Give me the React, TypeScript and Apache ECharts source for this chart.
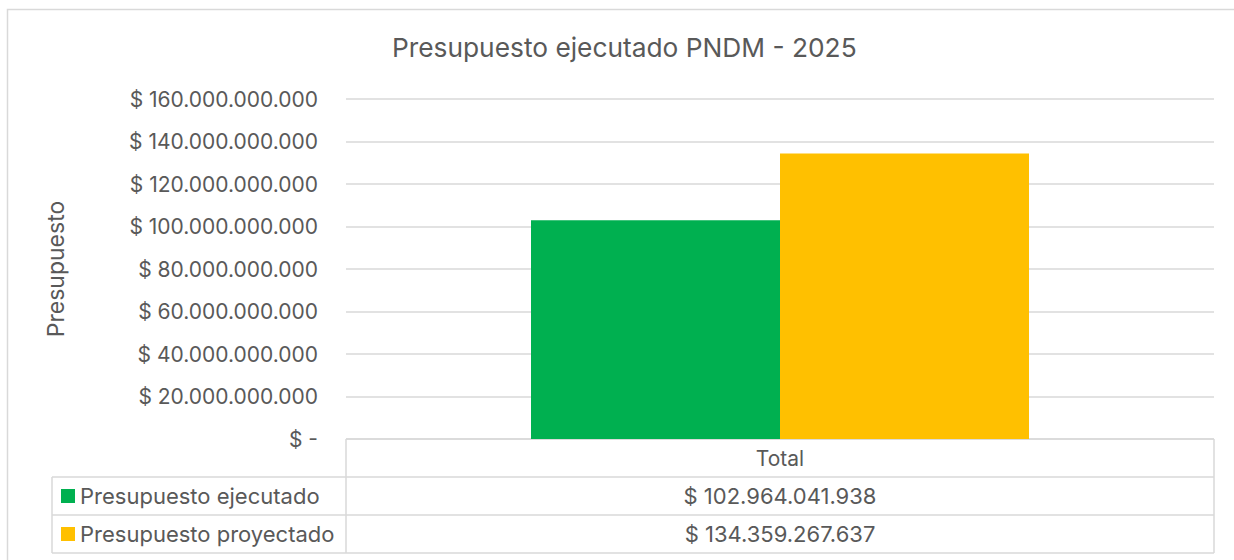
import React, { useEffect, useRef } from "react";
import * as echarts from "echarts";

const categories = ["Total"];
const seriesNames = ["Presupuesto ejecutado", "Presupuesto proyectado"];
const seriesColors = ["#00B050", "#FFC000"];
const ejecutado = [102964041938];
const proyectado = [134359267637];
const yTicks = [0, 20e9, 40e9, 60e9, 80e9, 100e9, 120e9, 140e9, 160e9];

const FONT = "Inter, 'Noto Sans', sans-serif";
const TXT = "#595959";
const LINE = "#D9D9D9";

function fmt(v: number): string {
  if (v === 0) return "$ -";
  const s = Math.round(v).toString().replace(/\B(?=(\d{3})+(?!\d))/g, ".");
  return "$ " + s;
}

export default function App() {
  const ref = useRef<HTMLDivElement>(null);
  useEffect(() => {
    if (!ref.current) return;
    const chart = echarts.init(ref.current, null, { renderer: "svg" });
    const gl = 346, gr = 1214, gt = 99, gb = 439;
    const rowTops = [439, 477, 515, 553];
    const seriesData = [ejecutado, proyectado];
    const graphics: any[] = [];
    graphics.push({ type: "rect", shape: { x: 7.5, y: 9.5, width: 1240, height: 600 }, style: { fill: "none", stroke: LINE, lineWidth: 1.5 }, silent: true });
    graphics.push({ type: "line", shape: { x1: gl, y1: rowTops[0], x2: gr, y2: rowTops[0] }, style: { stroke: LINE, lineWidth: 1.5 } });
    for (let i = 1; i < rowTops.length; i++) {
      graphics.push({ type: "line", shape: { x1: 52, y1: rowTops[i], x2: gr, y2: rowTops[i] }, style: { stroke: LINE, lineWidth: 1.5 } });
    }
    graphics.push({ type: "line", shape: { x1: 52, y1: rowTops[1], x2: 52, y2: rowTops[3] }, style: { stroke: LINE, lineWidth: 1.5 } });
    graphics.push({ type: "line", shape: { x1: gl, y1: rowTops[0], x2: gl, y2: rowTops[3] }, style: { stroke: LINE, lineWidth: 1.5 } });
    graphics.push({ type: "line", shape: { x1: gr, y1: rowTops[0], x2: gr, y2: rowTops[3] }, style: { stroke: LINE, lineWidth: 1.5 } });
    graphics.push({ type: "text", x: (gl + gr) / 2, y: (rowTops[0] + rowTops[1]) / 2, style: { text: categories[0], fill: TXT, font: `21px ${FONT}`, align: "center", verticalAlign: "middle" } });
    seriesNames.forEach((name, i) => {
      const cy = (rowTops[i + 1] + rowTops[i + 2]) / 2;
      graphics.push({ type: "rect", shape: { x: 61, y: cy - 7, width: 14, height: 14 }, style: { fill: seriesColors[i] } });
      graphics.push({ type: "text", x: 80, y: cy, style: { text: name, fill: TXT, font: `22px ${FONT}`, align: "left", verticalAlign: "middle" } });
      graphics.push({ type: "text", x: (gl + gr) / 2, y: cy, style: { text: fmt(seriesData[i][0]), fill: TXT, font: `22px ${FONT}`, align: "center", verticalAlign: "middle" } });
    });

    chart.setOption({
      animation: false,
      title: {
        text: "Presupuesto ejecutado PNDM - 2025",
        left: 392,
        top: 34,
        padding: 0,
        textStyle: { color: TXT, fontSize: 26.3, fontWeight: "normal", fontFamily: FONT },
      },
      grid: { left: gl, right: 1234 - gr, top: gt, bottom: 560 - gb },
      xAxis: {
        type: "category",
        data: categories,
        axisLine: { show: false },
        axisTick: { show: false },
        axisLabel: { show: false },
      },
      yAxis: {
        type: "value",
        min: 0,
        max: yTicks[yTicks.length - 1],
        interval: yTicks[1] - yTicks[0],
        name: "Presupuesto",
        nameLocation: "middle",
        nameRotate: 90,
        nameGap: 279,
        nameTextStyle: { color: TXT, fontSize: 23, fontFamily: FONT },
        axisLine: { show: false },
        axisTick: { show: false },
        axisLabel: { color: TXT, fontSize: 21, fontFamily: FONT, margin: 28, formatter: (v: number) => fmt(v) },
        splitLine: { lineStyle: { color: LINE, width: 1.5 } },
      },
      series: seriesNames.map((name, i) => ({
        type: "bar",
        name,
        data: seriesData[i],
        barWidth: 249,
        barGap: "0%",
        itemStyle: { color: seriesColors[i] },
      })),
      graphic: graphics,
    });
    return () => chart.dispose();
  }, []);
  return <div ref={ref} style={{ position: "fixed", left: 0, top: 0, width: 1234, height: 560, background: "#fff" }} />;
}
